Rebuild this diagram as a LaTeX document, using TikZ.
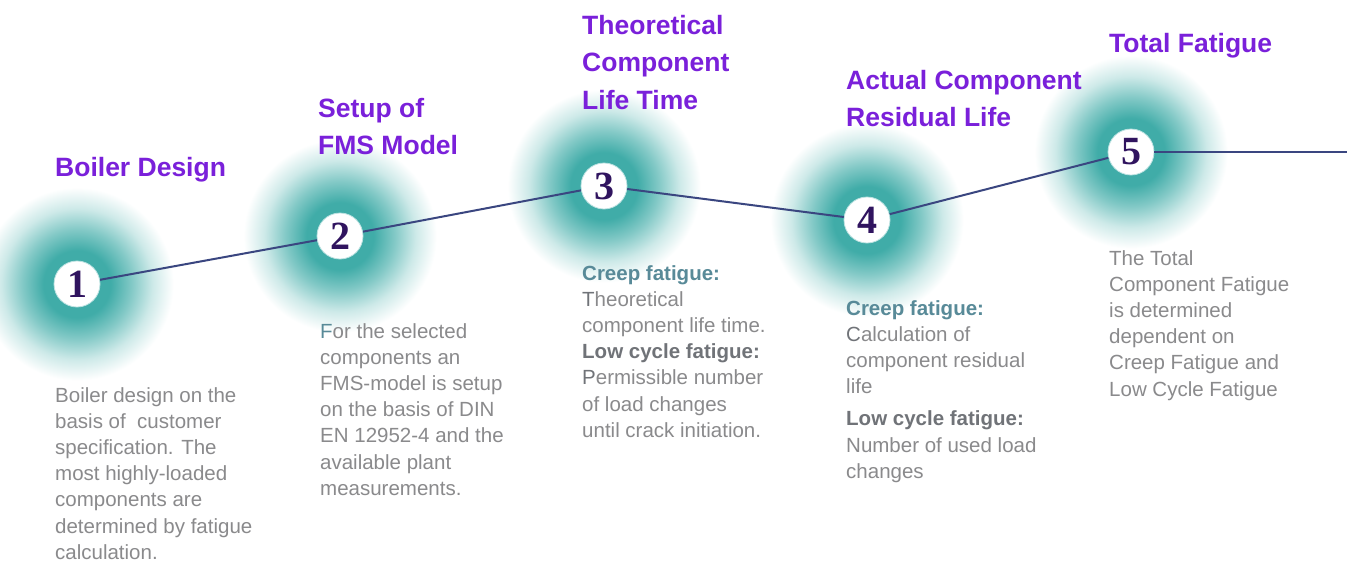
\documentclass[tikz,border=0pt]{standalone}
\usepackage{fontspec}
\setmainfont{Liberation Sans}
\newfontfamily\numfont{Liberation Serif}
\definecolor{glowteal}{RGB}{64,172,168}
\definecolor{titlepurple}{RGB}{122,32,218}
\definecolor{bodygray}{RGB}{138,138,140}
\definecolor{darkgray}{RGB}{112,115,120}
\definecolor{headteal}{RGB}{88,138,152}
\definecolor{numpurple}{RGB}{48,20,95}
\definecolor{linecol}{RGB}{58,70,128}
\pgfdeclareradialshading{glowshade}{\pgfpoint{0bp}{0bp}}{%
  color(0bp)=(glowteal); color(8bp)=(glowteal); color(13bp)=(glowteal!65!white);
  color(18bp)=(glowteal!26!white); color(23bp)=(white); color(50bp)=(white)}
\begin{document}
\begin{tikzpicture}[x=1pt,y=-1pt,
  glow/.style={shading=glowshade, draw=none},
  stepcircle/.style={circle, fill=white, draw=glowteal!35!white, line width=0.8pt,
    minimum size=46pt, inner sep=0pt, text=numpurple,
    font=\numfont\bfseries\fontsize{40}{40}\selectfont},
  title/.style={anchor=north west, inner sep=0pt, align=left, text=titlepurple,
    font=\bfseries\fontsize{26.5}{37.3}\selectfont},
  body/.style={anchor=north west, inner sep=0pt, align=left, text=bodygray,
    font=\fontsize{20.5}{26.2}\selectfont},
  link/.style={draw=linecol, line width=2pt}]
\useasboundingbox (0,0) rectangle (1352,563);
\fill[white] (0,0) rectangle (1352,563);
% glows
\begin{scope}
\clip (0,0) rectangle (1352,563);
\foreach \cx/\cy in {77/284, 340/236, 604/186, 867/220, 1131/152}
  \path[glow] (\cx,\cy) circle[radius=105];
\end{scope}
% circles
\node[stepcircle] (c1) at (77,284) {1};
\node[stepcircle] (c2) at (340,236) {2};
\node[stepcircle] (c3) at (604,186) {3};
\node[stepcircle] (c4) at (867,220) {4};
\node[stepcircle] (c5) at (1131,152) {5};
\coordinate (end) at (1347,152);
% links
\draw[link] (c1) -- (c2);
\draw[link] (c2) -- (c3);
\draw[link] (c3) -- (c4);
\draw[link] (c4) -- (c5);
\draw[link] (c5) -- (end);
% titles
\node[title] (t1) at (55,157) {Boiler Design};
\node[title] (t2) at (318,98) {Setup of\\FMS Model};
\node[title] (t3) at (582,15) {Theoretical\\Component\\Life Time};
\node[title] (t4) at (846,70) {Actual Component\\Residual Life};
\node[title] (t5) at (1109,33) {Total Fatigue};
% bodies
\node[body] (b1) at (55,387) {Boiler design on the\\basis of\ \ customer\\specification. The\\most highly-loaded\\components are\\determined by fatigue\\calculation.};
\node[body] (b2) at (320,323) {\textcolor{headteal}{F}or the selected\\components an\\FMS-model is setup\\on the basis of DIN\\EN 12952-4 and the\\available plant\\measurements.};
\node[body] (b3) at (582,265) {\textcolor{headteal}{\bfseries Creep fatigue:}\\\textcolor{darkgray}{T}heoretical\\component life time.\\\textcolor{darkgray}{\bfseries Low cycle fatigue:}\\\textcolor{darkgray}{P}ermissible number\\of load changes\\until crack initiation.};
\node[body] (b4) at (846,300) {\textcolor{headteal}{\bfseries Creep fatigue:}\\\textcolor{darkgray}{C}alculation of\\component residual\\life\\[6pt]\textcolor{darkgray}{\bfseries Low cycle fatigue:}\\Number of used load\\changes};
\node[body] (b5) at (1109,250) {The Total\\Component Fatigue\\is determined\\dependent on\\Creep Fatigue and\\Low Cycle Fatigue};
\end{tikzpicture}
\end{document}
